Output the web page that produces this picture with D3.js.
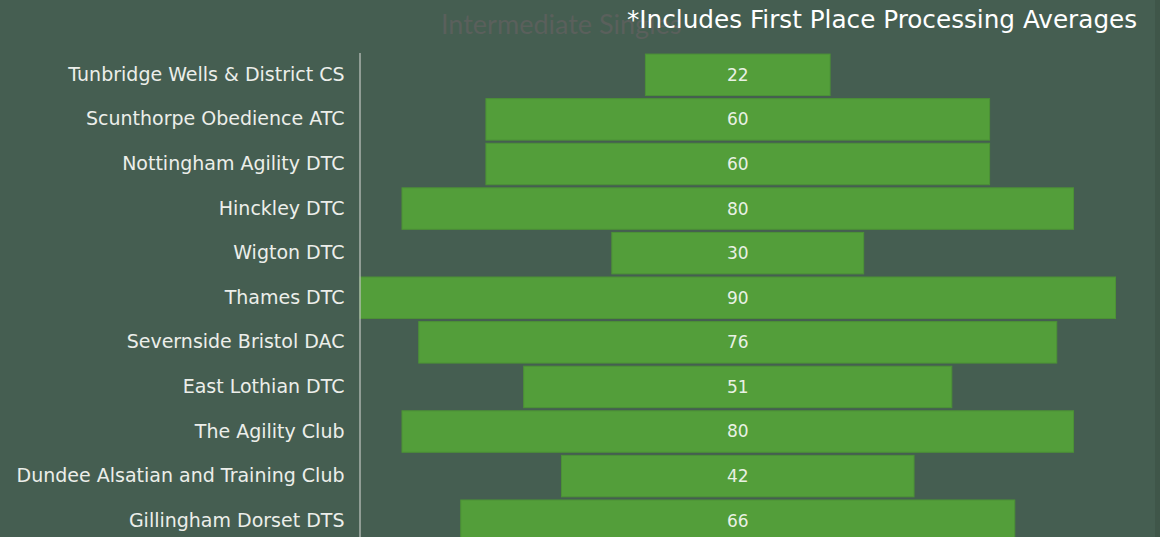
<!DOCTYPE html>
<html>
<head>
<meta charset="utf-8">
<script src="https://cdn.jsdelivr.net/npm/d3@7.9.0/dist/d3.min.js"></script>
<style>
  html, body { margin: 0; padding: 0; background: #455e51; overflow: hidden; }
  svg { display: block; font-family: "DejaVu Sans", sans-serif; }
</style>
</head>
<body>
<svg id="chart" width="1160" height="537"></svg>
<script>
// Club names, top to bottom
const clubs = [
  'Tunbridge Wells & District CS',
  'Scunthorpe Obedience ATC',
  'Nottingham Agility DTC',
  'Hinckley DTC',
  'Wigton DTC',
  'Thames DTC',
  'Severnside Bristol DAC',
  'East Lothian DTC',
  'The Agility Club',
  'Dundee Alsatian and Training Club',
  'Gillingham Dorset DTS'
];
// Averages per club
const scores = [22, 60, 60, 80, 30, 90, 76, 51, 80, 42, 66];

const chartTitle = 'Intermediate Singles';
const chartNote = '*Includes First Place Processing Averages';

const svg = d3.select('#chart');

// dark strip down the right edge
svg.append('rect')
  .attr('x', 1155).attr('y', 0)
  .attr('width', 5).attr('height', 537)
  .attr('fill', '#3f5649');

// bars are centred, so the scale runs from -max/2 to +max/2
const half = d3.max(scores) / 2;
const x = d3.scaleLinear().domain([-half, half]).range([360, 1115.5]);
const y = d3.scaleBand()
  .domain(clubs)
  .range([52.5, 543])
  .paddingInner(0.07)
  .paddingOuter(0.035);

const data = clubs.map((c, i) => ({ club: c, value: scores[i] }));

// bars
svg.append('g')
  .selectAll('rect')
  .data(data)
  .join('rect')
  .attr('x', d => x(-d.value / 2))
  .attr('y', d => y(d.club))
  .attr('width', d => x(d.value / 2) - x(-d.value / 2))
  .attr('height', y.bandwidth())
  .attr('fill', '#539e3a')
  .attr('stroke', '#4c9136')
  .attr('stroke-width', 1);

// value labels in the middle of each bar
svg.append('g')
  .selectAll('text')
  .data(data)
  .join('text')
  .attr('x', x(0))
  .attr('y', d => y(d.club) + y.bandwidth() / 2)
  .attr('dy', '0.35em')
  .attr('text-anchor', 'middle')
  .attr('fill', '#e9f1e4')
  .attr('font-size', 17)
  .text(d => d.value);

// category axis
const axis = svg.append('g')
  .attr('transform', 'translate(359.5,0)')
  .call(d3.axisLeft(y).tickSize(0).tickPadding(15));
axis.select('.domain').attr('stroke', '#c4c8c4').attr('stroke-width', 1.2);
axis.selectAll('text')
  .attr('fill', '#eceeea')
  .attr('font-size', 19)
  .style('font-family', '"DejaVu Sans", sans-serif');

// titles
svg.append('text')
  .attr('x', 441).attr('y', 34)
  .attr('fill', '#5a605c')
  .attr('font-size', 27)
  .style('font-family', 'Lato, sans-serif')
  .text(chartTitle);

svg.append('text')
  .attr('x', 627).attr('y', 28)
  .attr('fill', '#ffffff')
  .attr('font-size', 24.7)
  .text(chartNote);
</script>
</body>
</html>
